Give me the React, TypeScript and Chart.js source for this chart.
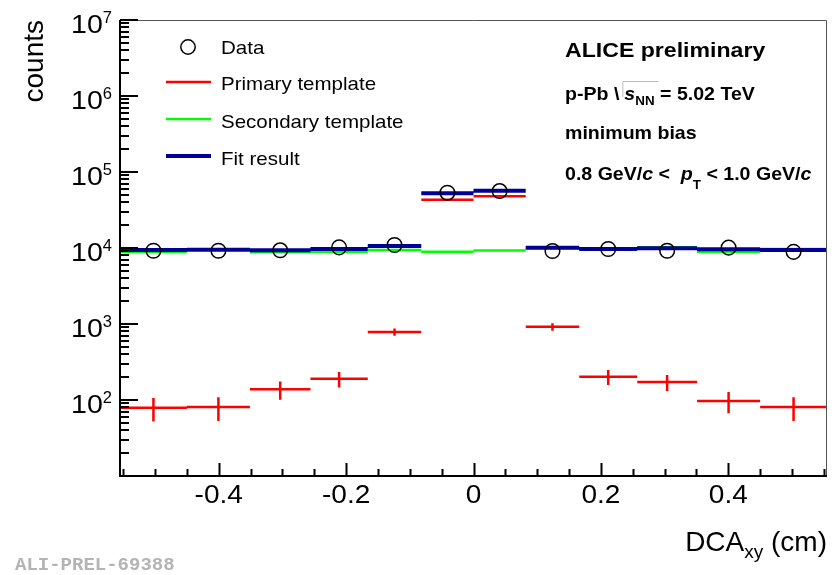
import React, { useEffect, useRef } from "react";
import { Chart, registerables } from "chart.js";
Chart.register(...registerables);

// ---- data ----
const binEdges = [-0.555, -0.45, -0.351, -0.256, -0.166, -0.082, 0, 0.082, 0.166, 0.257, 0.351, 0.45, 0.555];
const dataCounts = [9200, 9200, 9330, 10200, 10950, 53400, 56200, 9130, 9700, 9200, 10100, 8900];
const fitResult = [9410, 9500, 9330, 9700, 10600, 52400, 56700, 10100, 9700, 9900, 9600, 9410];
const primaryTemplate = [79, 81, 138, 190, 785, 43200, 47900, 920, 203, 172, 97, 81];
const primaryErrors = [27, 28, 37, 44, 85, 400, 400, 102, 46, 41, 30, 28];
const secondaryTemplate = [8940, 9450, 8780, 8940, 9410, 8940, 9300, 10000, 9650, 10200, 8940, 9700];

const yMin = 10;
const yMax = 1e7;
const xMin = -0.555;
const xMax = 0.555;
const yTickExponents = [2, 3, 4, 5, 6, 7];
const xTickValues = [-0.4, -0.2, 0, 0.2, 0.4];
const xTickLabels = ["-0.4", "-0.2", "0", "0.2", "0.4"];

const legendLabels = ["Data", "Primary template", "Secondary template", "Fit result"];

const FONT = '"Liberation Sans", Arial, Helvetica, sans-serif';

const binCenters = binEdges.slice(0, -1).map((e, i) => (e + binEdges[i + 1]) / 2);

function steps(values: number[]) {
  const pts: { x: number; y: number | null }[] = [];
  values.forEach((v, i) => {
    pts.push({ x: binEdges[i], y: v });
    pts.push({ x: binEdges[i + 1], y: v });
    pts.push({ x: binEdges[i + 1], y: null });
  });
  return pts;
}

function errorBars(values: number[], errs: number[]) {
  const pts: { x: number; y: number | null }[] = [];
  values.forEach((v, i) => {
    pts.push({ x: binCenters[i], y: v - errs[i] });
    pts.push({ x: binCenters[i], y: v + errs[i] });
    pts.push({ x: binCenters[i], y: null });
  });
  return pts;
}

function drawText(
  ctx: CanvasRenderingContext2D,
  s: string,
  x: number,
  y: number,
  font: string,
  align: "left" | "right" | "center" = "left",
  sx = 1,
  color = "#000"
) {
  ctx.save();
  ctx.font = font;
  ctx.fillStyle = color;
  ctx.textBaseline = "alphabetic";
  ctx.textAlign = "left";
  const w = ctx.measureText(s).width * sx;
  const x0 = align === "right" ? x - w : align === "center" ? x - w / 2 : x;
  ctx.translate(x0, y);
  ctx.scale(sx, 1);
  ctx.fillText(s, 0, 0);
  ctx.restore();
  return w;
}

type Run = { t: string; f: string; dy?: number; gap?: number };
function drawRuns(ctx: CanvasRenderingContext2D, runs: Run[], x: number, y: number, sx = 1) {
  let cx = x;
  for (const r of runs) {
    if (r.gap) cx += r.gap;
    if (r.t) cx += drawText(ctx, r.t, cx, y + (r.dy || 0), r.f, "left", sx);
  }
  return cx;
}

const rootPlugin = {
  id: "rootDecor",
  afterDatasetsDraw(chart: any) {
    const ctx: CanvasRenderingContext2D = chart.ctx;
    const xs = chart.scales.x;
    const ys = chart.scales.y;
    const { left, right, top, bottom } = chart.chartArea;
    ctx.save();
    // frame top/right
    ctx.strokeStyle = "#555";
    ctx.lineWidth = 1;
    ctx.beginPath();
    ctx.moveTo(left, top + 0.5);
    ctx.lineTo(right - 0.5, top + 0.5);
    ctx.lineTo(right - 0.5, bottom);
    ctx.stroke();
    // axes
    ctx.strokeStyle = "#000";
    ctx.lineWidth = 2;
    ctx.beginPath();
    ctx.moveTo(left, top);
    ctx.lineTo(left, bottom);
    ctx.lineTo(right, bottom);
    ctx.stroke();
    // y ticks (log)
    ctx.beginPath();
    for (let n = 1; n <= 7; n++) {
      for (let k = 1; k <= 9; k++) {
        const v = k * Math.pow(10, n);
        if (v > yMax * 1.0001) break;
        if (v < yMin) continue;
        const py = Math.round(ys.getPixelForValue(v));
        const len = k === 1 ? 18 : 9;
        ctx.moveTo(left, py);
        ctx.lineTo(left + len, py);
      }
    }
    // x ticks
    for (let i = -11; i <= 11; i++) {
      const v = i * 0.05;
      const px = Math.round(xs.getPixelForValue(v)) + 0.5;
      const len = i % 4 === 0 ? 13 : 7;
      ctx.moveTo(px, bottom);
      ctx.lineTo(px, bottom - len);
    }
    ctx.stroke();
    ctx.restore();

    // y tick labels
    const tickFont = `25.5px ${FONT}`;
    const expFont = `16.5px ${FONT}`;
    yTickExponents.forEach((e) => {
      const py = ys.getPixelForValue(Math.pow(10, e));
      ctx.save();
      ctx.font = expFont;
      const we = ctx.measureText(String(e)).width;
      ctx.restore();
      const bx = 112 - we;
      drawText(ctx, "10", bx, py + 12.5, tickFont, "right", 1.12);
      drawText(ctx, String(e), bx, py + 3, expFont, "left", 1);
    });
    // x tick labels
    xTickValues.forEach((v, i) => {
      const px = xs.getPixelForValue(v);
      drawText(ctx, xTickLabels[i], px, 503, tickFont, "center", 1.1);
    });

    // axis titles
    ctx.save();
    ctx.translate(43, 20);
    ctx.rotate(-Math.PI / 2);
    ctx.font = `28px ${FONT}`;
    ctx.fillStyle = "#000";
    ctx.textAlign = "right";
    ctx.textBaseline = "alphabetic";
    ctx.fillText("counts", 0, 0);
    ctx.restore();

    {
      const f = `28px ${FONT}`;
      const fs = `19px ${FONT}`;
      ctx.save();
      ctx.font = f;
      const w1 = ctx.measureText("DCA").width;
      const w3 = ctx.measureText(" (cm)").width;
      ctx.font = fs;
      const w2 = ctx.measureText("xy").width;
      ctx.restore();
      const x0 = 827 - (w1 + w2 + w3);
      drawRuns(ctx, [
        { t: "DCA", f },
        { t: "xy", f: fs, dy: 7 },
        { t: " (cm)", f },
      ], x0, 551);
    }

    // legend
    const lf = `19px ${FONT}`;
    ctx.save();
    ctx.strokeStyle = "#000";
    ctx.lineWidth = 1.5;
    ctx.beginPath();
    ctx.arc(188, 47, 7.2, 0, Math.PI * 2);
    ctx.stroke();
    ctx.lineWidth = 2.5;
    ctx.strokeStyle = "#ff0000";
    ctx.beginPath();
    ctx.moveTo(166, 82);
    ctx.lineTo(211, 82);
    ctx.stroke();
    ctx.strokeStyle = "#00ff00";
    ctx.beginPath();
    ctx.moveTo(166, 119);
    ctx.lineTo(211, 119);
    ctx.stroke();
    ctx.strokeStyle = "#000099";
    ctx.lineWidth = 4;
    ctx.beginPath();
    ctx.moveTo(166, 156);
    ctx.lineTo(211, 156);
    ctx.stroke();
    ctx.restore();
    drawText(ctx, legendLabels[0], 221, 53.5, lf, "left", 1.08);
    drawText(ctx, legendLabels[1], 221, 90, lf, "left", 1.08);
    drawText(ctx, legendLabels[2], 221, 128, lf, "left", 1.08);
    drawText(ctx, legendLabels[3], 221, 164.5, lf, "left", 1.08);

    // ALICE info text
    const bf = `bold 19px ${FONT}`;
    const bif = `italic bold 19px ${FONT}`;
    const sub = `bold 13px ${FONT}`;
    drawText(ctx, "ALICE preliminary", 565, 57, `bold 21px ${FONT}`, "left", 1.1);
    {
      let cx = drawRuns(ctx, [{ t: "p-Pb ", f: bf }, { t: "\\", f: bf }], 565, 100, 1.03);
      cx += 3;
      ctx.save();
      ctx.strokeStyle = "#bbb";
      ctx.lineWidth = 1;
      ctx.beginPath();
      ctx.moveTo(cx + 0.5, 97);
      ctx.lineTo(cx + 0.5, 81.5);
      ctx.lineTo(cx + 36, 81.5);
      ctx.stroke();
      ctx.restore();
      cx += 2;
      drawRuns(ctx, [
        { t: "s", f: bif },
        { t: "NN", f: sub, dy: 5 },
        { t: " = 5.02 TeV", f: bf },
      ], cx, 100, 1.03);
    }
    drawText(ctx, "minimum bias", 565, 139, bf, "left", 1.03);
    drawRuns(ctx, [
      { t: "0.8 GeV/", f: bf },
      { t: "c", f: bif },
      { t: " <  ", f: bf },
      { t: "p", f: bif },
      { t: "T", f: sub, dy: 9 },
      { t: " < 1.0 GeV/", f: bf },
      { t: "c", f: bif },
    ], 565, 180, 1.03);

    // watermark
    drawText(ctx, "ALI-PREL-69388", 15, 570, `bold 19px "Liberation Mono", "Courier New", monospace`, "left", 1, "#b4b4b4");
  },
};

export default function App() {
  const ref = useRef<HTMLCanvasElement | null>(null);
  useEffect(() => {
    document.body.style.margin = "0";
    const canvas = ref.current!;
    const line = (label: string, data: any[], color: string, width: number) => ({
      label,
      data,
      showLine: true,
      borderColor: color,
      backgroundColor: color,
      borderWidth: width,
      pointRadius: 0,
      pointHoverRadius: 0,
      spanGaps: false,
      fill: false,
      borderCapStyle: "butt" as const,
    });
    const chart = new Chart(canvas, {
      type: "scatter",
      data: {
        datasets: [
          {
            label: legendLabels[0],
            data: binCenters.map((x, i) => ({ x, y: dataCounts[i] })),
            showLine: false,
            pointRadius: 7.3,
            pointBorderWidth: 1.5,
            pointBorderColor: "#000",
            pointBackgroundColor: "rgba(0,0,0,0)",
            pointHoverRadius: 7.3,
          } as any,
          line(legendLabels[3], steps(fitResult), "#000099", 4),
          line(legendLabels[1], steps(primaryTemplate), "#ff0000", 2.5),
          line(legendLabels[1] + " err", errorBars(primaryTemplate, primaryErrors), "#ff0000", 2.5),
          line(legendLabels[2], steps(secondaryTemplate), "#00ff00", 2.5),
        ],
      },
      options: {
        animation: false,
        responsive: false,
        devicePixelRatio: 1,
        events: [],
        layout: { padding: { left: 120, top: 20, right: 10, bottom: 99 } },
        scales: {
          x: { type: "linear", min: xMin, max: xMax, display: false },
          y: { type: "logarithmic", min: yMin, max: yMax, display: false },
        },
        plugins: { legend: { display: false }, tooltip: { enabled: false } },
      },
      plugins: [rootPlugin],
    });
    return () => chart.destroy();
  }, []);
  return (
    <div style={{ position: "absolute", left: 0, top: 0, width: 837, height: 575, background: "#fff" }}>
      <canvas ref={ref} width={837} height={575} style={{ display: "block" }} />
    </div>
  );
}
